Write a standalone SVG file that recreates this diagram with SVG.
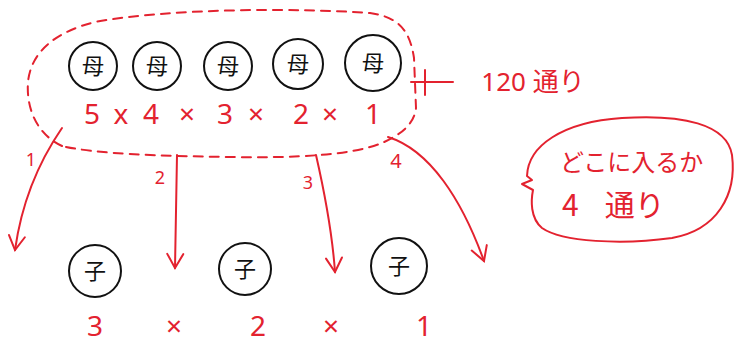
<svg xmlns="http://www.w3.org/2000/svg" width="738" height="350" viewBox="0 0 738 350">
<style>
.red{fill:none;stroke:#e3222f;stroke-width:2;stroke-linecap:round;stroke-linejoin:round}
.dash{stroke-dasharray:9 7}
.circ{fill:none;stroke:#111;stroke-width:2}
.k{font-family:"Noto Sans CJK JP","Noto Sans",sans-serif;fill:#111;font-size:22px;text-anchor:middle}
.r{font-family:"Noto Sans","Noto Sans CJK JP",sans-serif;fill:#e3222f;text-anchor:middle}
.rj{font-family:"Noto Sans CJK JP",sans-serif;fill:#e3222f}
</style>
<defs>
<marker id="ah" viewBox="0 0 20 20" refX="16" refY="10" markerWidth="20" markerHeight="20" markerUnits="userSpaceOnUse" orient="auto">
<path d="M2,2 L16,10 L2,18" fill="none" stroke="#e3222f" stroke-width="2" stroke-linecap="round"/>
</marker>
</defs>

<g id="group-loop">
<path class="red dash" d="M62,146 C38,135 26,110 28,82 C31,52 55,32 95,22 C170,8 300,8 370,13 C400,17 410,32 414,58 L416,108 C414,125 400,135 382,143 C350,156 290,158 230,157 C160,156 95,154 62,146 Z"/>
<path class="red" d="M411,82 L453,82 M425,70 L425,95"/>
<text class="r" x="533" y="91" font-size="26">120 <tspan font-family="Noto Sans CJK JP">通り</tspan></text>
</g>

<g id="m1"><circle class="circ" cx="93" cy="66" r="24"/><text class="k" x="93" y="74">母</text></g>
<g id="m2"><circle class="circ" cx="157" cy="66" r="24"/><text class="k" x="157" y="74">母</text></g>
<g id="m3"><circle class="circ" cx="228" cy="66" r="24"/><text class="k" x="228" y="74">母</text></g>
<g id="m4"><circle class="circ" cx="298" cy="64" r="25"/><text class="k" x="298" y="72">母</text></g>
<g id="m5"><circle class="circ" cx="373" cy="63" r="28"/><text class="k" x="373" y="71">母</text></g>

<g id="mother-count">
<text class="r" font-size="28" y="124"><tspan x="92">5</tspan><tspan x="121">x</tspan><tspan x="151">4</tspan><tspan x="187">×</tspan><tspan x="225">3</tspan><tspan x="256">×</tspan><tspan x="301">2</tspan><tspan x="330">×</tspan><tspan x="373">1</tspan></text>
</g>

<g id="connectors">
<path class="red" d="M62,128 C40,160 22,200 15,250" marker-end="url(#ah)"/>
<path class="red" d="M177,155 L175,268" marker-end="url(#ah)"/>
<path class="red" d="M316,155 C324,190 332,230 335,272" marker-end="url(#ah)"/>
<path class="red" d="M388,137 C430,150 462,200 484,261" marker-end="url(#ah)"/>
<text class="r" font-size="18" x="31" y="166">1</text>
<text class="r" font-size="18" x="160" y="184">2</text>
<text class="r" font-size="18" x="308" y="189">3</text>
<text class="r" font-size="20" x="396" y="168">4</text>
</g>

<g id="c1"><circle class="circ" cx="95" cy="271" r="26"/><text class="k" x="95" y="279">子</text></g>
<g id="c2"><circle class="circ" cx="245" cy="269" r="26"/><text class="k" x="245" y="277">子</text></g>
<g id="c3"><circle class="circ" cx="399" cy="266" r="28"/><text class="k" x="399" y="274">子</text></g>

<g id="child-count">
<text class="r" font-size="28" y="336"><tspan x="95">3</tspan><tspan x="174">×</tspan><tspan x="258">2</tspan><tspan x="331">×</tspan><tspan x="424">1</tspan></text>
</g>

<g id="bubble">
<path class="red" d="M527,176 C528,146 562,122 622,118 C682,114 727,124 732,155 C737,195 717,230 672,238 C622,245 562,242 542,228 C530,218 531,200 533,190 L522,184 L532,180 Z"/>
<text class="rj" font-size="24" x="560" y="171">どこに入るか</text>
<text class="rj" font-size="30" x="562" y="216">4<tspan dx="26">通り</tspan></text>
</g>
</svg>
